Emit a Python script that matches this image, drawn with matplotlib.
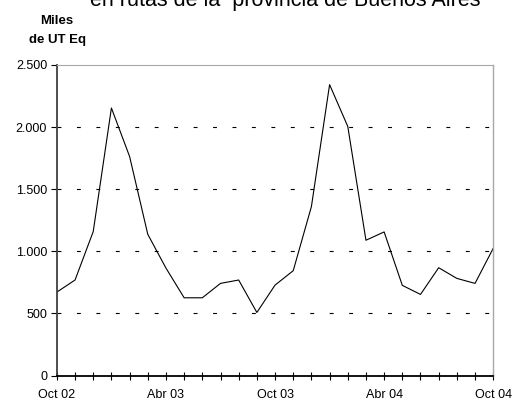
import matplotlib
matplotlib.use('Agg')
import matplotlib.pyplot as plt

plt.rcParams['font.family'] = ['Liberation Sans', 'DejaVu Sans']

# monthly values, Oct 02 .. Oct 04 (miles de UT Eq)
months = ['Oct 02', 'Nov 02', 'Dic 02', 'Ene 03', 'Feb 03', 'Mar 03', 'Abr 03',
          'May 03', 'Jun 03', 'Jul 03', 'Ago 03', 'Sep 03', 'Oct 03', 'Nov 03',
          'Dic 03', 'Ene 04', 'Feb 04', 'Mar 04', 'Abr 04', 'May 04', 'Jun 04',
          'Jul 04', 'Ago 04', 'Sep 04', 'Oct 04']
values = [672, 769, 1159, 2153, 1763, 1137, 865, 626, 626, 742, 769, 508, 728,
          844, 1360, 2341, 2005, 1089, 1156, 726, 653, 868, 782, 742, 1024]

yticks = [0, 500, 1000, 1500, 2000, 2500]
ytick_labels = ['0', '500', '1.000', '1.500', '2.000', '2.500']
xtick_pos = [0, 6, 12, 18, 24]

fig = plt.figure(figsize=(5.17, 4.03), dpi=100)
ax = fig.add_axes([0.110, 0.068, 0.844, 0.771])

x = list(range(len(values)))
ax.plot(x, values, color='black', linewidth=0.8)

# dashed horizontal grid
for v in yticks[1:-1]:
    ax.axhline(v, color='black', linewidth=0.8, dashes=(3.5, 14), zorder=0)

ax.set_xlim(0, len(values) - 1)
ax.set_ylim(0, 2500)

ax.set_yticks(yticks)
ax.set_yticklabels(ytick_labels, fontsize=9)
ax.set_xticks(x, minor=True)
ax.set_xticks(xtick_pos)
ax.set_xticklabels([months[i] for i in xtick_pos], fontsize=9)

ax.tick_params(axis='y', direction='out', length=4, width=0.8, pad=3)
ax.tick_params(axis='x', which='both', direction='inout', length=6, width=0.8, pad=7)

ax.spines['left'].set_color('#404040')
ax.spines['left'].set_linewidth(1.3)
ax.spines['bottom'].set_color('black')
ax.spines['bottom'].set_linewidth(1.3)
ax.spines['right'].set_color('#a8a8a8')
ax.spines['right'].set_linewidth(1.0)
ax.spines['top'].set_color('#a8a8a8')
ax.spines['top'].set_linewidth(0.8)

fig.text(0.552, 1 - 6 / 403, 'en rutas de la  provincia de Buenos Aires',
         fontsize=15.5, ha='center', va='baseline')
fig.text(0.110, 1 - 23.5 / 403, 'Miles', fontsize=9.5, fontweight='bold', ha='center', va='baseline')
fig.text(0.112, 1 - 43 / 403, 'de UT Eq', fontsize=9.5, fontweight='bold', ha='center', va='baseline')

fig.savefig('out.png', dpi=100)
